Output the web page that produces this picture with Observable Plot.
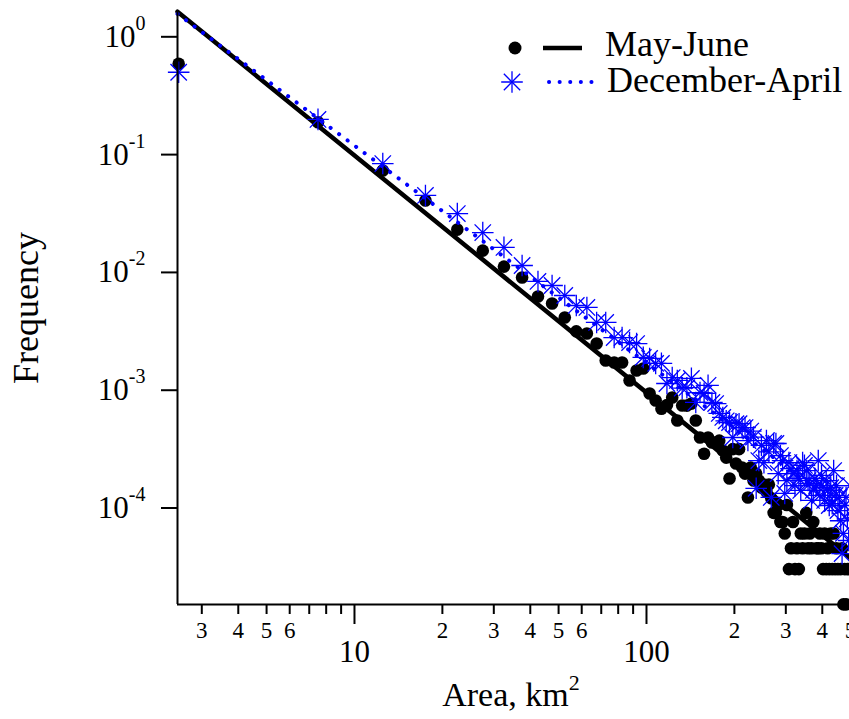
<!DOCTYPE html>
<html><head><meta charset="utf-8">
<script src="https://cdn.jsdelivr.net/npm/d3@7"></script>
<script src="https://cdn.jsdelivr.net/npm/@observablehq/plot@0.6"></script>
<style>
html,body{margin:0;padding:0;overflow:hidden;background:#fff;}
#chart{position:relative;width:849px;height:719px;overflow:hidden;}
#chart svg{max-width:none !important;}
svg text{font-family:"Liberation Serif","Times New Roman",serif;}
</style></head><body><div id="chart"></div>
<script>
// bin centres (km^2)
const area = [2.5, 7.5, 12.5, 17.5, 22.5, 27.5, 32.5, 37.5, 42.5, 47.5, 52.5, 57.5, 62.5, 67.5, 72.5, 77.5, 82.5, 87.5, 92.5, 97.5,
  102.5, 107.5, 112.5, 117.5, 122.5, 127.5, 132.5, 137.5, 142.5, 147.5, 152.5, 157.5, 162.5, 167.5, 172.5, 177.5, 182.5, 187.5, 192.5, 197.5,
  202.5, 207.5, 212.5, 217.5, 222.5, 227.5, 232.5, 237.5, 242.5, 247.5, 252.5, 257.5, 262.5, 267.5, 272.5, 277.5, 282.5, 287.5, 292.5, 297.5,
  302.5, 307.5, 312.5, 317.5, 322.5, 327.5, 332.5, 337.5, 342.5, 347.5, 352.5, 357.5, 362.5, 367.5, 372.5, 377.5, 382.5, 387.5, 392.5, 397.5,
  402.5, 407.5, 412.5, 417.5, 422.5, 427.5, 432.5, 437.5, 442.5, 447.5, 452.5, 457.5, 462.5, 467.5, 472.5, 477.5, 482.5, 487.5, 492.5, 497.5];

// May-June frequencies (null = empty bin)
const mayJune = [0.59, 0.188, 0.0733, 0.0408, 0.0231, 0.0153, 0.0112, 0.00905, 0.00624, 0.00544, 0.00414, 0.00316, 0.00303, 0.00249, 0.00179, 0.00172, 0.00172, 0.00121, 0.00147, 0.00153,
  0.000937, 0.000817, 0.000697, 0.00075, 0.000867, 0.000553, 0.000742, 0.00074, 0.00077, 0.000553, 0.000397, 0.000289, 0.000397, 0.00036, 0.00036, 0.000373, 0.000308, 0.000268, 0.000178, 0.000316,
  0.000239, 0.000316, 0.000221, 0.000196, 0.000123, 0.000221, 0.000171, 0.000196, 0.000171, 0.000149, 0.000158, 0.000137, 0.000158, 0.000121, 0.000091, 0.000091, 0.000106, 0.000076, 0.000076, 0.0000607,
  0.000106, 0.0000303, 0.0000455, 0.000076, 0.0000303, 0.0000455, 0.0000303, 0.0000607, 0.0000455, 0.0000607, 0.000091, 0.0000455, 0.0000607, 0.0000455, 0.000076, null, 0.0000455, 0.0000455, 0.0000607, 0.0000455,
  0.0000303, 0.0000607, 0.0000303, 0.0000455, 0.0000303, 0.0000607, 0.0000303, 0.0000607, 0.0000303, 0.0000455, 0.0000303, null, 0.0000303, 0.0000455, 0.0000152, 0.0000303, 0.0000152, 0.0000303, null, 0.0000303];

// December-April frequencies
const decApr = [0.50, 0.199, 0.084, 0.045, 0.0316, 0.0218, 0.0163, 0.01145, 0.00838, 0.00774, 0.00637, 0.00524, 0.00504, 0.00376, 0.00376, 0.0028, 0.0028, 0.00254, 0.00249, 0.0019,
  0.00186, 0.00169, 0.00169, 0.00114, 0.00128, 0.00121, 0.00104, 0.00105, 0.00126, 0.000787, 0.000955, 0.00094, 0.0011, 0.000787, 0.00077, 0.000635, 0.000587, 0.00055, 0.000532, 0.000397,
  0.00052, 0.00052, 0.000482, 0.000482, 0.000374, 0.00045, 0.0004, 0.000147, 0.000253, 0.00034, 0.000243, 0.000374, 0.0003, 0.000123, 0.000353, 0.000353, 0.000196, 0.000279, 0.000253, 0.000133,
  0.000171, 0.000243, 0.000216, 0.000196, 0.000155, 0.000208, 0.000178, 0.000141, 0.000243, 0.00023, 0.000208, 0.000171, 0.000161, 0.000116, 0.000141, 0.000178, 0.000155, 0.000253, 0.000128, 0.000189,
  0.000149, 0.000116, 0.000171, 0.000141, 0.000105, 0.000149, 0.000109, 0.000208, 0.000128, 0.000155, 0.000095, 0.000123, 0.000078, 0.000041, 0.000061, 0.000105, 0.000123, 0.000081, 0.000053, 0.000155];

// power-law fits: freq = coef * area^exponent
const fitSeries = ["May-June", "December-April"];
const fitCoef = [10.14, 8.35];
const fitExponent = [-2.013, -1.845];

// axes
const xDomain = [2.477, 1000];
const yDomain = [1.517e-5, 1.64];
const yTicks = [1, 0.1, 0.01, 0.001, 0.0001];
const xMinorTicks = [3, 4, 5, 6, 7, 8, 9, 20, 30, 40, 50, 60, 70, 80, 90, 200, 300, 400, 500, 600, 700, 800, 900];
const xMinorLabels = ["3", "4", "5", "6", "", "", "", "2", "3", "4", "5", "6", "", "", "", "2", "3", "4", "5", "", "", "", ""];
const xMajorTicks = [10, 100];
const xMajorLabels = ["10", "100"];

const BLUE = "#0000ff";
const mjRows = area.map((a, i) => ({area: a, freq: mayJune[i]})).filter(d => d.freq != null);
const daRows = area.map((a, i) => ({area: a, freq: decApr[i]})).filter(d => d.freq != null);
const fitRows = fitSeries.flatMap((s, k) => xDomain.map(x => ({series: s, area: x, freq: fitCoef[k] * Math.pow(x, fitExponent[k])})));
const minorRows = xMinorTicks.map((t, i) => ({tick: t, label: xMinorLabels[i]})).filter(d => d.label !== "");
const majorRows = xMajorTicks.map((t, i) => ({tick: t, label: xMajorLabels[i]}));

const H = 719, MT = 11, MB = 115;
const frameH = H - MT - MB;

const plot = Plot.plot({
  width: 938, height: H,
  marginLeft: 177, marginRight: 0, marginTop: MT, marginBottom: MB,
  style: {fontFamily: "Liberation Serif", background: "white", overflow: "visible", color: "black", maxWidth: "none"},
  x: {type: "log", domain: xDomain, axis: null},
  y: {type: "log", domain: yDomain},
  marks: [
    Plot.dot(mjRows, {x: "area", y: "freq", r: 6.3, fill: "black", stroke: "none"}),
    Plot.line(fitRows.filter(d => d.series === "May-June"), {x: "area", y: "freq", stroke: "black", strokeWidth: 4.5}),
    Plot.dot(daRows, {x: "area", y: "freq", symbol: "plus", r: 7, stroke: BLUE, strokeWidth: 1.3}),
    Plot.dot(daRows, {x: "area", y: "freq", symbol: "times", r: 7.5, stroke: BLUE, strokeWidth: 1.3}),
    Plot.line(fitRows.filter(d => d.series === "December-April"), {x: "area", y: "freq", stroke: BLUE, strokeWidth: 4, strokeDasharray: "0.1 10.5", strokeLinecap: "round"}),
    Plot.ruleX([xDomain[0]], {stroke: "black", strokeWidth: 2}),
    Plot.ruleY([yDomain[0]], {stroke: "black", strokeWidth: 2}),
    Plot.axisY({ticks: yTicks, tickSize: 16, tickPadding: 16, strokeWidth: 2, fontSize: 31, label: null,
      tickFormat: d => "10^" + Math.round(Math.log10(d))}),
    // x tick marks hanging below the axis line
    Plot.tickX(xMinorTicks, {x: d => d, insetTop: frameH, insetBottom: -10, stroke: "black", strokeWidth: 2}),
    Plot.tickX(xMajorTicks, {x: d => d, insetTop: frameH, insetBottom: -20, stroke: "black", strokeWidth: 2}),
    Plot.text(minorRows, {x: "tick", text: "label", frameAnchor: "bottom", lineAnchor: "top", dy: 17, fontSize: 23, fill: "black"}),
    Plot.text(majorRows, {x: "tick", text: "label", frameAnchor: "bottom", lineAnchor: "top", dy: 35, fontSize: 31, fill: "black"})
  ]
});
plot.style.maxWidth = "none";

const svg = d3.select(plot);
// superscript exponents on y tick labels
svg.selectAll('g[aria-label="y-axis tick label"] text').each(function () {
  const m = this.textContent.match(/^10\^(.+)$/);
  if (!m) return;
  const t = d3.select(this);
  t.text("10");
  t.append("tspan").attr("dy", "-17").attr("font-size", 20).text(m[1]);
});

// axis titles
svg.append("text")
  .attr("transform", "translate(38,308) rotate(-90)")
  .attr("text-anchor", "middle").attr("font-size", 36).attr("fill", "black")
  .text("Frequency");
const xt = svg.append("text")
  .attr("x", 511).attr("y", 706)
  .attr("text-anchor", "middle").attr("font-size", 34).attr("fill", "black");
xt.append("tspan").text("Area, km");
xt.append("tspan").attr("dy", -16).attr("font-size", 22).text("2");

// legend
const lg = svg.append("g").attr("text-anchor", "start");
lg.append("circle").attr("cx", 515).attr("cy", 48).attr("r", 6.5).attr("fill", "black");
lg.append("line").attr("x1", 543).attr("x2", 582).attr("y1", 48).attr("y2", 48).attr("stroke", "black").attr("stroke-width", 4.5);
lg.append("text").attr("x", 605).attr("y", 56).attr("font-size", 36).attr("fill", "black").text(fitSeries[0]);
const ax = lg.append("g").attr("transform", "translate(512,82)").attr("stroke", BLUE).attr("stroke-width", 1.3);
ax.append("path").attr("d", d3.symbol(d3.symbolPlus, Math.PI * 49)());
ax.append("path").attr("d", d3.symbol(d3.symbolTimes, Math.PI * 56)());
lg.append("line").attr("x1", 549).attr("x2", 593).attr("y1", 82).attr("y2", 82).attr("stroke", BLUE)
  .attr("stroke-width", 4).attr("stroke-dasharray", "0.1 10.5").attr("stroke-linecap", "round");
lg.append("text").attr("x", 607).attr("y", 92).attr("font-size", 36).attr("fill", "black").text(fitSeries[1]);

document.getElementById("chart").appendChild(plot);
</script></body></html>
